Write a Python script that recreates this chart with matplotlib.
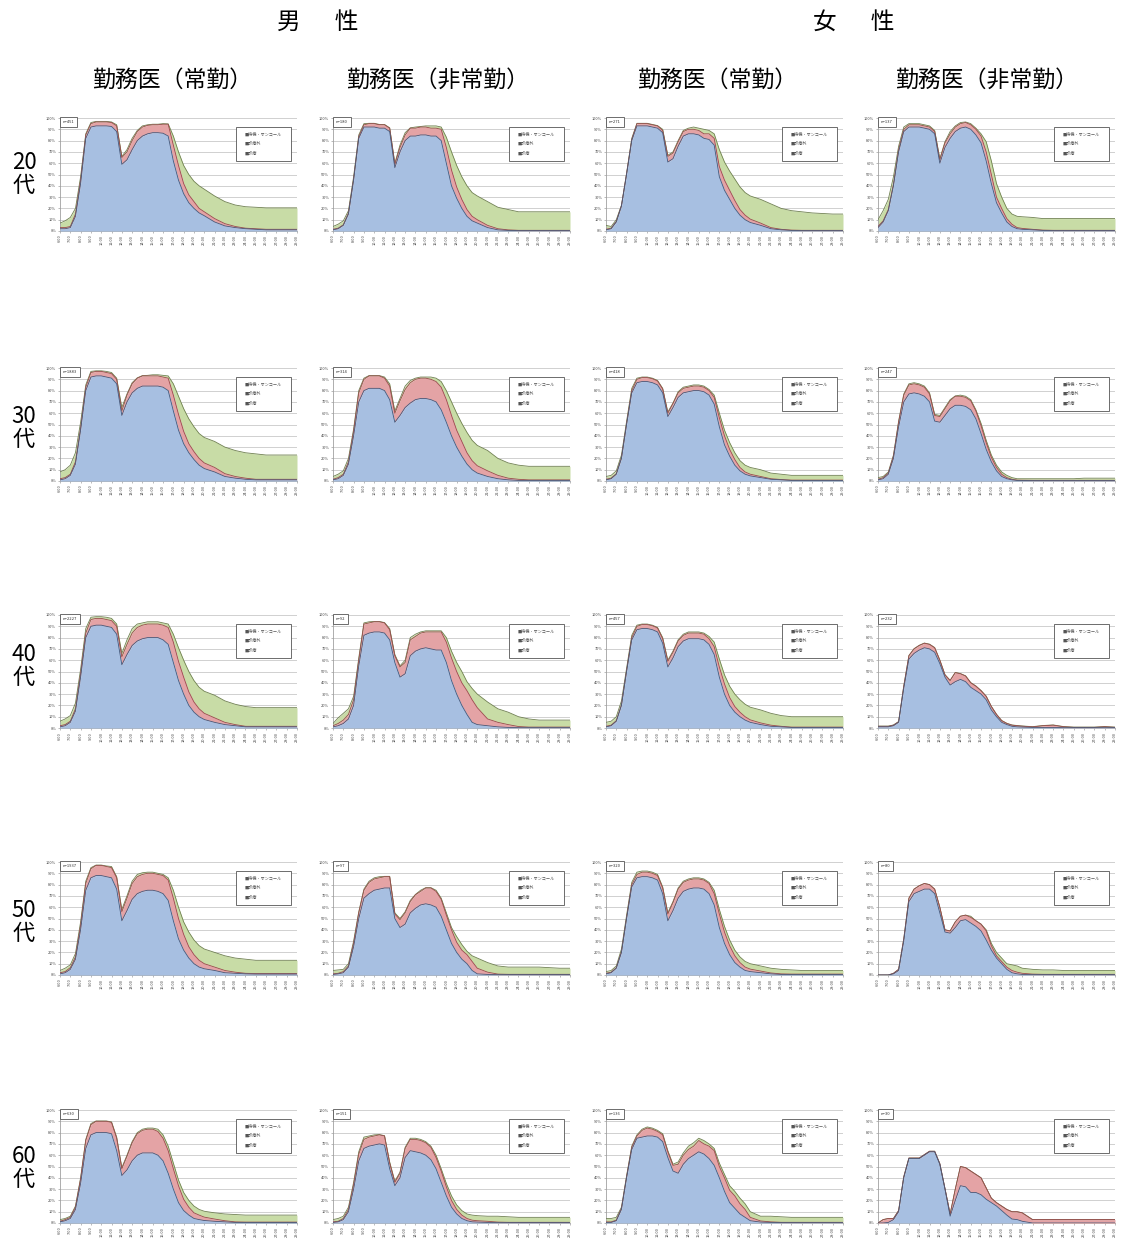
import matplotlib
matplotlib.use('Agg')
import matplotlib.pyplot as plt
import numpy as np
from matplotlib.patches import Patch

plt.rcParams['font.family'] = ['Noto Sans CJK JP', 'DejaVu Sans']

# time grid (hours; 24+ = next day)
times = [6.0, 6.5, 7.0, 7.5, 8.0, 8.5, 9.0, 9.5, 10.0, 10.5, 11.0, 11.5, 12.0, 12.5,
         13.0, 13.5, 14.0, 14.5, 15.0, 15.5, 16.0, 16.5, 17.0, 17.5, 18.0, 18.5, 19.0,
         19.5, 20.0, 21, 22, 23, 24, 25, 26, 27, 28, 29]
tick_hours = list(range(6, 30))
tick_labels = [f"{h}:00" for h in tick_hours]

series_names = ["■待機・オンコール", "■診療外", "■診療"]
sex_titles = ["男　  性", "女　  性"]
col_titles = ["勤務医（常勤）", "勤務医（非常勤）", "勤務医（常勤）", "勤務医（非常勤）"]
row_titles = ["20\n代", "30\n代", "40\n代", "50\n代", "60\n代"]
n_labels = [["n=451", "n=180", "n=271", "n=137"],
            ["n=1883", "n=314", "n=418", "n=247"],
            ["n=2227", "n=92", "n=457", "n=232"],
            ["n=1937", "n=97", "n=320", "n=80"],
            ["n=630", "n=151", "n=136", "n=30"]]

# ---- 20代 ----
m20_reg_clin = [2,2,3,13,42,82,92,93,93,93,92.5,88,59,63,72,80,84,86,87,87,86.5,84,62,45,33,25,20,16,13.5,8,4.5,3,2,1.5,1,1,1,1]
m20_reg_non = [1,1,1,2,3,3,3,3.5,3.5,3.5,3.5,5,6,7,8,8,8,7.5,7,7,8,10.5,14,13,9,7,6,4,3.5,3,2,1,0.5,0.5,0.5,0.5,0.5,0.5]
m20_reg_oncall = [4,6,8,5,3,1,1,0.5,0.5,0.5,0.5,1,1,2,2,1,1,0.5,0.5,0.5,0.5,0.3,8,12,16,18,18,20,20,20,19.5,19,19,19,19,19,19,19]

m20_par_clin = [1,2,5,15,45,82,92,92,92,91,91,88,56,70,80,84,84,85,85,84,84,80,60,40,29,20,13,9,7,3,1,0.5,0.3,0.3,0.3,0.3,0.3,0.3]
m20_par_non = [0.5,0.5,0.5,1,1,1.5,2,3,3,3,3,3,3,4,5,7,7,7,7,7,7,10,14,14,10,8,6,4,3,2,1,0.5,0.3,0.3,0.3,0.3,0.3,0.3]
m20_par_oncall = [2.5,3.5,3.5,2,2,1.5,1,0.3,0.3,0.3,0.3,0.3,1,2,2,0.3,1,0.5,1,2,2,2,9,16,19,20,21,21,21,21,19,18,16.4,16.4,16.4,16.4,16.4,16.4]

f20_reg_clin = [1,2,8,22,50,80,93,93,93,92,91,87,61,64,75,84,86,86,85,82,81,76,48,36,28,20,14,10,7.5,5,2,1,0.5,0.3,0.3,0.3,0.3,0.3]
f20_reg_non = [0.5,0.5,0.5,0.5,1,1,2,2,2,2,2,2,5,5,4,4,4,4,4,4,5,6,9,9,8,7,5,4,3,2,1,0.5,0.3,0.3,0.3,0.3,0.3,0.3]
f20_reg_oncall = [3.5,1.5,1.5,0.3,0.3,1,0.3,0.3,0.3,0.3,0.3,1,1,1,1,1,1,2,2,4,3,4,15,16,17,19,20,20,20.5,21,21,18.5,17.2,16.4,15.4,14.9,14.4,14.4]

f20_par_clin = [3,8,18,40,70,88,92,92,92,91,90,86,60,74,82,88,91,92,90,85,78,62,42,25,16,8,4,2,1.5,1,0.5,0.3,0.3,0.3,0.3,0.3,0.3,0.3]
f20_par_non = [1,1,1,1.5,2,2,2,2,2,2,2,2,3,4,4,4,4,4,4,5,6,8,8,5,4,3,2,1,0.8,0.5,0.3,0.3,0.3,0.3,0.3,0.3,0.3,0.3]
f20_par_oncall = [6,9,9,6.5,3,2,1,1,1,1,1,1,1,1,2,1,1,0.5,1,1,2,9,12,12,10,9,9,10,10.3,10.5,10.2,10.4,10.4,10.4,10.4,10.4,10.4,10.4]

# ---- 30代 ----
m30_reg_clin = [1,2,5,15,45,80,92,93,93,92,91,86,58,70,78,82,84,84,84,84,83,80,62,45,33,25,19,14,11,8,4,2.5,1.5,1,1,1,1,1]
m30_reg_non = [1,1,1,2,2,3,4,4,4,4,4,4,4,6,8,9,9,9,9,9,9,11,14,14,11,8,7,6,5,4,2.5,1.5,1,0.5,0.5,0.5,0.5,0.5]
m30_reg_oncall = [6,7,8,8,5,2,1,0.5,0.5,1,1,1,3,1,1,0.3,0.3,0.5,1,1,1.5,2,10,16,20,22,22,22,22.5,23,23.5,23,22.5,22.5,21.5,21.5,21.5,21.5]

m30_par_clin = [1,2,5,15,40,70,80,82,82,82,80,72,52,58,65,69,72,73,73,72,70,63,52,40,30,22,15,10,7,4,2,1,0.5,0.5,0.5,0.5,0.5,0.5]
m30_par_non = [0.5,1,1,2,4,8,10,11,11,11,11,12,8,13,16,18,18,18,18,18,18,20,20,18,15,13,10,8,6.5,5,3,1.5,1,0.5,0.5,0.5,0.5,0.5]
m30_par_oncall = [2.5,3,3,3,2,2,1,0.3,0.3,0.3,1,2,2,2,3,2,1,1,1,2,3,5,8,12,15,16,18,18,18,18,15,13.5,12.5,12,12,12,12,12]

f30_reg_clin = [1,2,6,20,50,78,87,88,88,87,85,78,57,65,74,78,79,80,80,79,76,68,48,32,22,14,9,6,4.5,3,1.5,1,0.5,0.5,0.5,0.5,0.5,0.5]
f30_reg_non = [0.5,0.5,0.5,0.5,1,2,3,3.5,3.5,3.5,3.5,3.5,3,3.5,4,4,4,4,4,4,4,6,8,8,6,5,3,2,1.5,1,0.5,0.3,0.3,0.3,0.3,0.3,0.3,0.3]
f30_reg_oncall = [2.5,2.5,2.5,2.5,2,2,1,0.5,0.5,0.5,0.5,0.5,1,0.5,1,1,1,1,1,1,1,2,4,5,6,6,6,6,6,6,5,4.7,4.2,4.2,4.2,4.2,4.2,4.2]

f30_par_clin = [1,2,6,20,48,70,77,78,77,75,70,53,52,58,64,67,67,66,63,55,42,28,17,9,4,2,1,0.5,0.4,0.3,0.3,0.3,0.3,0.3,0.3,0.3,0.3,0.3]
f30_par_non = [0.5,1,1,2,4,6,8,8,8,8,7,5,5,6,7,8,8,8,8,7,7,6,4,3,2,1,0.5,0.3,0.3,0.3,0.3,0.3,0.3,0.3,0.3,0.3,0.3,0.3]
f30_par_oncall = [1.5,1,1,1,1,1,1,1,1,1,1,1,1,1,1,0.3,1,1,1,1,2,2,2,2,2,2,1.5,1.2,1.3,1.4,1.4,1.4,1.4,1.4,1.9,1.9,1.9,1.9]

# ---- 40代 ----
m40_reg_clin = [1,2,5,15,45,80,90,91,91,90,89,83,56,65,73,77,79,80,80,80,78,74,58,42,30,20,14,10,7.5,5,3,2,1,1,1,1,1,1]
m40_reg_non = [1,1,1,2,3,4,6,6,6,6,6,7,7,9,11,12,12,12,12,12,13,15,18,17,15,12,9,7,5.5,4,2,1,0.5,0.5,0.5,0.5,0.5,0.5]
m40_reg_oncall = [4,5,5,5,4,4,2,1.5,1.5,2,2,2,3,4,4,3,2,2,2,2,2,3,7,12,15,18,19,19,19.5,20,19,18,17.5,16.5,16.5,16.5,16.5,16.5]

m40_par_clin = [1,2,4,8,20,55,82,84,85,85,84,78,58,45,48,64,68,70,71,70,69,69,58,42,30,20,12,5,3,2,1,0.5,0.3,0.3,0.3,0.3,0.3,0.3]
m40_par_non = [1,2,3,4,5,5,10,9,9,9,9,9,6,9,10,14,13,14,14,15,16,16,18,20,20,20,21,20,15,6,4,2.5,1,0.5,0.5,0.5,0.5,0.5]
m40_par_oncall = [2,5,6,5,3,2,1,1,0.3,0.3,0.3,1,1,1,2,2,2,1,1,1,1,1,4,6,8,10,8,10,12,15,12,11,8.7,7.2,6.2,6.2,6.2,6.2]

f40_reg_clin = [1,2,6,20,50,78,87,88,88,87,85,75,54,62,72,77,79,79,79,78,74,65,45,30,20,14,10,7,5,3,1.5,1,0.5,0.5,0.5,0.5,0.5,0.5]
f40_reg_non = [0.5,0.5,0.5,0.5,1,2,3,3.5,3.5,3.5,3.5,4,5,5,5,5,5,5,5,5,5,7,9,9,7,5,4,3,2.2,1.5,1,0.5,0.3,0.3,0.3,0.3,0.3,0.3]
f40_reg_oncall = [3.5,3.5,3.5,3.5,2,2,1,0.5,0.5,0.5,0.5,1,1,1,1,1,1,1,1,1,2,4,7,8,10,11,11,11,11.2,11.5,10.5,9.5,9.2,9.2,9.2,9.2,9.2,9.2]

f40_par_clin = [1,1,1,2,5,35,61,66,69,71,70,67,57,45,38,41,43,41,36,33,30,25,16,10,5,3,1.5,1,0.8,0.5,0.5,0.5,0.3,0.3,0.3,0.3,0.3,0.3]
f40_par_non = [0.5,0.5,0.5,0.5,0.5,2,3,4,4,4,4,4,3,2,4,8,5,5,4,4,3,3,3,2,1.5,1,1,1,0.8,0.5,1.5,2,0.8,0.3,0.3,0.3,0.8,0.3]
f40_par_oncall = [0.2,0.2,0.2,0.2,0.2,0.2,0.2,0.2,0.2,0.2,0.2,0.2,0.2,0.2,0.2,0.2,0.2,0.2,0.2,0.2,0.2,0.2,0.2,0.2,0.2,0.2,0.2,0.2,0.2,0.2,0.2,0.2,0.2,0.2,0.2,0.2,0.2,0.2]

# ---- 50代 ----
m50_reg_clin = [1,2,5,14,40,75,86,88,88,87,86,76,48,57,67,72,74,75,75,74,72,66,48,32,22,15,10,7,5.5,4,2,1.5,1,0.8,0.8,0.8,0.8,0.8]
m50_reg_non = [1,1,1.5,2,4,6,8,9,9,9,9,10,8,11,14,15,15,15,15,15,16,18,20,18,14,10,8,6,4.5,3,2,1,0.5,0.5,0.5,0.5,0.5,0.5]
m50_reg_oncall = [2,3,2.5,3,3,2,1,0.3,0.3,0.5,1,1,2,2,2,2,1.5,1,1,1,1,2,7,10,11,13,13,13,13,13,13,12.5,12.5,11.7,11.7,11.7,11.7,11.7]

m50_par_clin = [0.5,1,2,7,25,50,68,72,75,76,77,77,50,42,45,55,59,62,63,62,60,52,40,28,20,14,10,4,1,0.5,0.3,0.3,0.3,0.3,0.3,0.3,0.3,0.3]
m50_par_non = [0.5,0.5,1,1,3,5,7,10,10,10,10,10,4,7,10,10,12,12,14,15,14,15,13,12,9,8,8,8,5,2,0.5,0.3,0.3,0.3,0.3,0.3,0.3,0.3]
m50_par_oncall = [3,3,2,2,2,1,1,1,1,1,0.3,0.3,1,1,1,1,0.3,1,0.3,0.3,1,1,2,2,5,5,3,5,9,8.5,7.2,6.4,6.4,6.4,6.4,5.9,5.4,5.4]

f50_reg_clin = [1,2,6,20,50,78,86,87,87,86,84,72,48,57,68,74,76,77,77,76,72,62,42,28,18,11,7,4,3,2,1,0.5,0.5,0.5,0.5,0.5,0.5,0.5]
f50_reg_non = [0.5,0.5,0.5,0.5,1,2,3,4,4,4,4,5,6,7,8,8,8,8,8,8,9,10,12,10,8,6,4,3,2.2,1.5,0.8,0.5,0.3,0.3,0.3,0.3,0.3,0.3]
f50_reg_oncall = [1.5,1.5,1.5,2.5,2,2,2,1,1,1,1,1,1,1,1,1,1,1,1,1,1,3,4,5,5,5,5,5,4.8,4.5,4.2,4,3.7,3.2,3.2,3.2,3.2,3.2]

f50_par_clin = [0,0,0,1,4,30,65,72,74,76,76,72,55,38,37,42,48,49,46,43,39,31,22,15,10,5,2,1,0.5,0.3,0.3,0.3,0.3,0.3,0.3,0.3,0.3,0.3]
f50_par_non = [0,0,0,0.5,1,2,3,4,5,5,4,4,5,2,2,5,4,4,5,5,6,8,4,2,2,2,2,1.5,1,0.5,0.3,0.3,0.3,0.3,0.3,0.3,0.3,0.3]
f50_par_oncall = [0,0,0,0,0,0,0,0,0,0,0,0,0,0,0,0,0,0,1,0,0,1,2,3,3,3,5,5.5,4.5,4.2,3.9,3.9,3.4,3.4,3.4,3.4,3.4,3.4]

# ---- 60代 ----
m60_reg_clin = [1,2,4,12,35,66,78,80,80,80,79,64,42,47,55,60,62,62,62,60,55,44,30,18,11,7,4,3,2.2,1.5,1,0.5,0.5,0.5,0.5,0.5,0.5,0.5]
m60_reg_non = [0.5,1,1,2,4,7,9,10,10,10,10,11,6,12,16,19,20,21,21,21,20,20,18,15,10,7,5,4,3,2,1,0.5,0.3,0.3,0.3,0.3,0.3,0.3]
m60_reg_oncall = [1.5,1,1,1,1,1,1,0.3,0.3,0.3,0.5,1,1,1,1,1,1,1,1,2,3,4,5,5,6,6,6,5,5.2,5.5,6,6.5,6.2,6.2,6.2,6.2,6.2,6.2]

m60_par_clin = [0.5,1,3,10,30,55,66,68,69,70,69,48,33,40,58,64,63,62,60,56,48,36,24,14,8,4,2,1,0.8,0.5,0.3,0.3,0.3,0.3,0.3,0.3,0.3,0.3]
m60_par_non = [0.5,0.5,1,2,4,6,8,8,8,8,8,5,3,4,8,10,11,11,11,11,10,10,8,6,4,3,2,1.5,1.2,1,0.5,0.3,0.3,0.3,0.3,0.3,0.3,0.3]
m60_par_oncall = [2,2.5,2,2,2,2,2,1,1,0.3,0.3,1,1,1,1,1,1,1,1,1,2,2,3,4,4,4,4,4.5,4.5,4.5,5.2,4.9,4.4,4.4,4.4,4.4,4.4,4.4]

f60_reg_clin = [0.5,0.5,2,12,40,65,75,76,77,77,76,72,58,46,44,52,57,60,63,61,57,51,40,28,18,13,8,5,2,0.8,0.5,0.3,0.3,0.3,0.3,0.3,0.3,0.3]
f60_reg_non = [0.5,0.5,0.5,1,1,2,2,6,7,6,5,6,5,5,8,8,8,8,10,9,11,13,10,12,11,11,9,7,3,1,0.5,0.3,0.3,0.3,0.3,0.3,0.3,0.3]
f60_reg_oncall = [3,3,2.5,1,1,1,1,1,1,1,1,1,1,1,2,2,3,3,2,3,2,2,3,3,4,4,5,5,5,4.2,5,4.9,4.4,4.4,4.4,4.4,4.4,4.4]

f60_par_clin = [0,0,0.5,3,10,40,57,57,57,60,63,63,52,30,6,20,33,32,27,27,25,21,18,15,11,7,3.5,3,1.5,0,0,0,0,0,0,0,0,0]
f60_par_non = [0,3,3.5,1,1,1,0.5,0.5,0.5,0.5,0.5,0.5,0.5,0.5,2,10,17,17,19,16,15,10,4,3,4,5,6.5,7,7.5,3,3,3,3,3,3,3,3,3]
f60_par_oncall = [0,0,0,0,0,0,0,0,0,0,0,0,0,0,0,0,0,0,0,0,0,0,0,0,0,0,0,0,0,0,0,0,0,0,0,0,0,0]

grid_data = [
    [(m20_reg_clin, m20_reg_non, m20_reg_oncall), (m20_par_clin, m20_par_non, m20_par_oncall),
     (f20_reg_clin, f20_reg_non, f20_reg_oncall), (f20_par_clin, f20_par_non, f20_par_oncall)],
    [(m30_reg_clin, m30_reg_non, m30_reg_oncall), (m30_par_clin, m30_par_non, m30_par_oncall),
     (f30_reg_clin, f30_reg_non, f30_reg_oncall), (f30_par_clin, f30_par_non, f30_par_oncall)],
    [(m40_reg_clin, m40_reg_non, m40_reg_oncall), (m40_par_clin, m40_par_non, m40_par_oncall),
     (f40_reg_clin, f40_reg_non, f40_reg_oncall), (f40_par_clin, f40_par_non, f40_par_oncall)],
    [(m50_reg_clin, m50_reg_non, m50_reg_oncall), (m50_par_clin, m50_par_non, m50_par_oncall),
     (f50_reg_clin, f50_reg_non, f50_reg_oncall), (f50_par_clin, f50_par_non, f50_par_oncall)],
    [(m60_reg_clin, m60_reg_non, m60_reg_oncall), (m60_par_clin, m60_par_non, m60_par_oncall),
     (f60_reg_clin, f60_reg_non, f60_reg_oncall), (f60_par_clin, f60_par_non, f60_par_oncall)],
]

# ---- styling / layout ----
W, H = 1121, 1241
fill_colors = ['#a7bfe1', '#e4a3a5', '#c8dca6']
edge_colors = ['#45587a', '#9a4a4c', '#6f8050']
col_x = [60, 333, 606, 878]
col_w = 237
row_top = [118, 368, 615, 862, 1110]
row_h = 113

fig = plt.figure(figsize=(W / 100, H / 100), dpi=100)
fig.patch.set_facecolor('white')

fig.text(318 / W, 1 - 22 / H, sex_titles[0], fontsize=17, ha='center', va='center')
fig.text(854 / W, 1 - 22 / H, sex_titles[1], fontsize=17, ha='center', va='center')
for j, cx in enumerate([172, 438, 717, 987]):
    fig.text(cx / W, 1 - 80 / H, col_titles[j], fontsize=16.5, ha='center', va='center')
for i, cy in enumerate([174, 428, 666, 922, 1168]):
    fig.text(24 / W, 1 - cy / H, row_titles[i], fontsize=16, ha='center', va='center',
             linespacing=1.0)

t = np.array(times)
for i in range(5):
    for j in range(4):
        clin, non, oncall = (np.array(a, dtype=float) for a in grid_data[i][j])
        ax = fig.add_axes([col_x[j] / W, 1 - (row_top[i] + row_h) / H, col_w / W, row_h / H])
        ax.set_xlim(6, 29)
        ax.set_ylim(0, 100)
        ax.set_yticks(range(0, 101, 10))
        ax.set_yticklabels([f"{v}%" for v in range(0, 101, 10)], fontsize=2.8, color='#444444')
        ax.set_xticks(tick_hours)
        ax.set_xticklabels(tick_labels, rotation=90, fontsize=2.8, color='#444444')
        ax.tick_params(axis='both', length=1.2, width=0.4, pad=1.5, colors='#888888',
                       labelcolor='#444444')
        ax.yaxis.grid(True, color='#c9c9c9', linewidth=0.6)
        ax.set_axisbelow(True)
        for s in ['top', 'right']:
            ax.spines[s].set_visible(False)
        for s in ['left', 'bottom']:
            ax.spines[s].set_color('#a0a0a0')
            ax.spines[s].set_linewidth(0.6)

        l1 = clin
        l2 = clin + non
        l3 = clin + non + oncall
        ax.fill_between(t, l2, l3, color=fill_colors[2], linewidth=0, zorder=2)
        ax.fill_between(t, l1, l2, color=fill_colors[1], linewidth=0, zorder=3)
        ax.fill_between(t, 0, l1, color=fill_colors[0], linewidth=0, zorder=4)
        ax.plot(t, l3, color=edge_colors[2], linewidth=0.6, zorder=5)
        ax.plot(t, l2, color=edge_colors[1], linewidth=0.6, zorder=6)
        ax.plot(t, l1, color=edge_colors[0], linewidth=0.6, zorder=7)

        handles = [Patch(facecolor=fill_colors[2], edgecolor='none'),
                   Patch(facecolor=fill_colors[1], edgecolor='none'),
                   Patch(facecolor=fill_colors[0], edgecolor='none')]
        leg = ax.legend(handles, series_names, loc='upper left',
                        bbox_to_anchor=(0.733, 0.628, 0.25, 0.31), mode='expand',
                        fontsize=3, handlelength=0, handletextpad=0.8,
                        labelspacing=1.25, borderpad=1.2, frameon=True, fancybox=False)
        leg.get_frame().set_edgecolor('#555555')
        leg.get_frame().set_linewidth(0.6)
        leg.get_frame().set_alpha(1)
        for txt in leg.get_texts():
            txt.set_color('#555555')
        leg.set_zorder(10)

        ax.text(0.012, 0.985, n_labels[i][j], transform=ax.transAxes, fontsize=3,
                va='top', ha='left', color='#333333', zorder=11,
                bbox=dict(boxstyle='square,pad=0.7', facecolor='white',
                          edgecolor='#555555', linewidth=0.6))

fig.savefig('out.png', dpi=100, facecolor='white')
